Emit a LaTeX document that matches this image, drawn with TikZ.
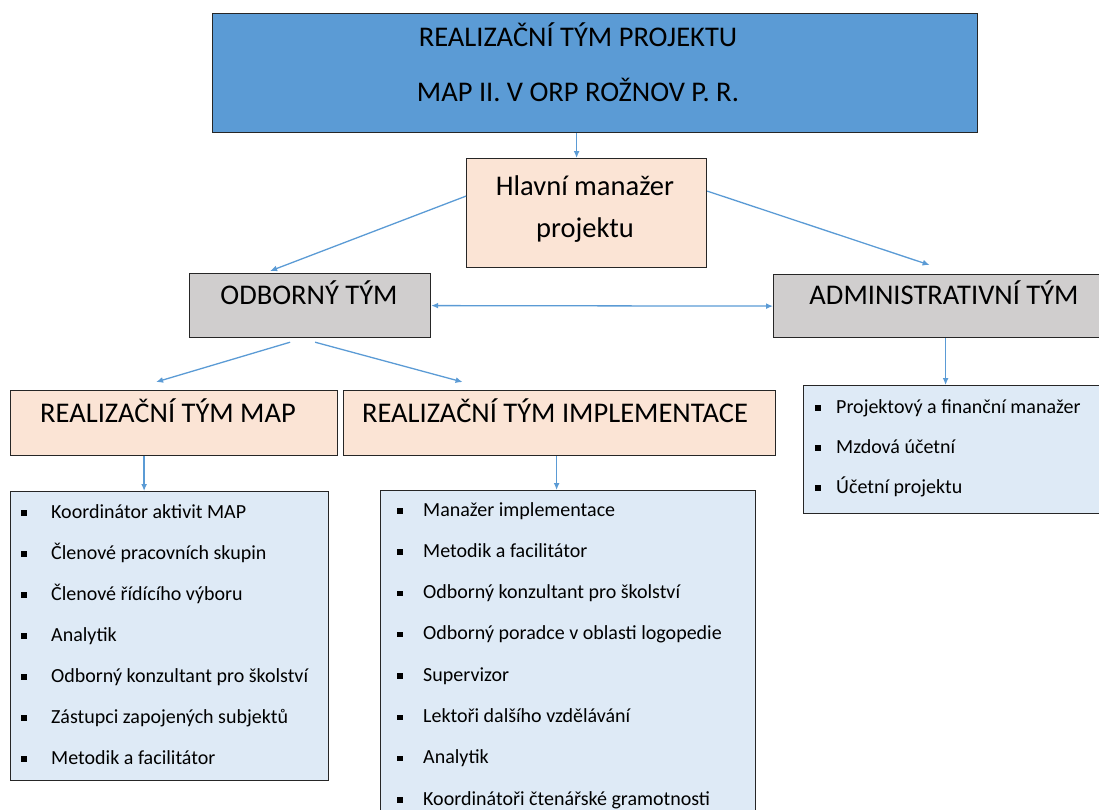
\documentclass[tikz,border=0pt]{standalone}
\usepackage{fontspec}
\setmainfont{Carlito}
\usetikzlibrary{positioning,arrows.meta}
\definecolor{headblue}{RGB}{91,155,213}
\definecolor{peach}{RGB}{251,228,213}
\definecolor{teamgray}{RGB}{208,206,206}
\definecolor{listblue}{RGB}{222,234,246}
\definecolor{linkblue}{RGB}{91,155,213}
\newcommand{\itembullet}{\rule[2.5pt]{5.5pt}{5.5pt}}
\tikzset{
  teambox/.style={draw=black!85, line width=1.2pt, anchor=north west, inner sep=0pt},
  headbox/.style={teambox, fill=headblue},
  peachbox/.style={teambox, fill=peach},
  graybox/.style={teambox, fill=teamgray},
  listbox/.style={teambox, fill=listblue},
  bigtext/.style={font=\fontsize{28.5}{34}\selectfont, inner sep=0pt, anchor=base},
  itemtext/.style={font=\fontsize{20}{24}\selectfont, inner sep=0pt, anchor=base west},
  link/.style={-{Latex[length=7pt,width=6pt]}, linkblue, line width=1.3pt},
}
\begin{document}
\begin{tikzpicture}[x=1pt,y=-1pt]
  \useasboundingbox (0,0) rectangle (1099,809);

  % boxes
  \node[headbox, minimum width=765pt, minimum height=119pt] (head) at (212,13) {};
  \node[peachbox, minimum width=240pt, minimum height=109pt] (hlavni) at (466,158) {};
  \node[graybox, minimum width=241pt, minimum height=64pt] (odb) at (189,273) {};
  \node[graybox, minimum width=332pt, minimum height=63pt] (admin) at (773,274) {};
  \node[peachbox, minimum width=327pt, minimum height=65pt] (map) at (10,390) {};
  \node[peachbox, minimum width=432pt, minimum height=65pt] (impl) at (343,390) {};
  \node[listbox, minimum width=318pt, minimum height=289pt] (maplist) at (10,491) {};
  \node[listbox, minimum width=375pt, minimum height=340pt] (impllist) at (380,490) {};
  \node[listbox, minimum width=305pt, minimum height=128pt] (adminlist) at (803,385) {};

  % headings
  \node[bigtext] (headtop) at (578,46) {REALIZAČNÍ TÝM PROJEKTU};
  \node[bigtext] (headbot) at (578,101) {MAP II. V ORP ROŽNOV P. R.};
  \node[bigtext] (hlavnitop) at (585,195) {Hlavní manažer};
  \node[bigtext] (hlavnibot) at (585,237) {projektu};
  \node[bigtext] (odbtext) at (309,304) {ODBORNÝ TÝM};
  \node[bigtext] (admintext) at (944,304) {ADMINISTRATIVNÍ TÝM};
  \node[bigtext] (maptext) at (168,422) {REALIZAČNÍ TÝM MAP};
  \node[bigtext] (impltext) at (555,422) {REALIZAČNÍ TÝM IMPLEMENTACE};

  % lists
  \foreach \txt [count=\i] in {Koordinátor aktivit MAP, Členové pracovních skupin,
      Členové řídícího výboru, Analytik, Odborný konzultant pro školství,
      Zástupci zapojených subjektů, Metodik a facilitátor}
    \node[itemtext] (mapitem\i) at (21,{518+41*(\i-1)}) {\makebox[30pt][l]{\itembullet}\txt};
  \foreach \txt [count=\i] in {Manažer implementace, Metodik a facilitátor,
      Odborný konzultant pro školství, Odborný poradce v oblasti logopedie,
      Supervizor, Lektoři dalšího vzdělávání, Analytik,
      Koordinátoři čtenářské gramotnosti}
    \node[itemtext] (implitem\i) at (397,{516+41.3*(\i-1)}) {\makebox[26pt][l]{\itembullet}\txt};
  \foreach \txt [count=\i] in {Projektový a finanční manažer, Mzdová účetní, Účetní projektu}
    \node[itemtext] (adminitem\i) at (815,{413+40*(\i-1)}) {\makebox[21pt][l]{\itembullet}\txt};

  % connectors
  \draw[link] ([xshift=-10pt]hlavni.north |- head.south) -- ([xshift=-10pt]hlavni.north);
  \draw[link] ([yshift=17pt]hlavni.west) -- ([xshift=-40pt,yshift=2pt]odb.north);
  \draw[link] ([yshift=22pt]hlavni.east) -- ([xshift=-10pt,yshift=9pt]admin.north);
  \draw[{Latex[length=7pt,width=6pt]}-{Latex[length=7pt,width=6pt]}, linkblue, line width=1.3pt]
    (odb.east) -- (admin.west);
  \draw[link] ([xshift=-20pt,yshift=-4pt]odb.south) -- ([xshift=-18pt,yshift=8pt]map.north);
  \draw[link] ([xshift=5pt,yshift=-4pt]odb.south) -- ([xshift=-97pt,yshift=8pt]impl.north);
  \draw[link] ([xshift=-30pt]map.south) -- ([xshift=-30pt]map.south |- maplist.north);
  \draw[link] ([xshift=-3pt]impl.south) -- ([xshift=-3pt]impl.south |- impllist.north);
  \draw[link] ([xshift=6pt]admin.south) -- ([xshift=6pt]admin.south |- adminlist.north);
\end{tikzpicture}
\end{document}
